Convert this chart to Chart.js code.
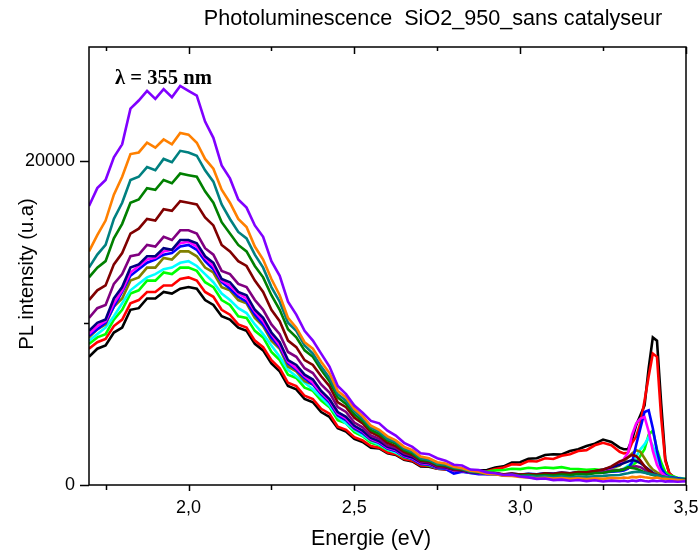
<!DOCTYPE html>
<html>
<head>
<meta charset="utf-8">
<script src="https://cdn.jsdelivr.net/npm/chart.js@4.4.1/dist/chart.umd.min.js"></script>
<style>
  html, body { margin: 0; padding: 0; background: #fff; }
  #wrap { width: 698px; height: 554px; }
</style>
</head>
<body>
<div id="wrap"><canvas id="chart" width="698" height="554"></canvas></div>
<script>
// photon energy (eV), shared by every spectrum
const energy = [1.700,1.725,1.750,1.775,1.800,1.825,1.850,1.875,1.900,1.925,1.950,1.975,2.000,2.025,2.050,2.075,2.100,2.125,2.150,2.175,2.200,2.225,2.250,2.275,2.300,2.325,2.350,2.375,2.400,2.425,2.450,2.475,2.500,2.525,2.550,2.575,2.600,2.625,2.650,2.675,2.700,2.725,2.750,2.775,2.800,2.825,2.850,2.875,2.900,2.925,2.950,2.975,3.000,3.025,3.050,3.075,3.100,3.125,3.150,3.175,3.200,3.225,3.250,3.275,3.300,3.3125,3.325,3.3375,3.350,3.3625,3.375,3.3875,3.400,3.4125,3.425,3.4375,3.450,3.475,3.500];

// PL intensity (u.a), one array per spectrum
const violet  = [17200,18300,18800,20200,21000,23200,23700,24300,23800,24400,23900,24600,24300,24000,22400,21400,19700,18900,17600,17100,16000,15300,13800,12900,11300,10500,9500,8900,8100,7300,6100,5600,4900,4450,3950,3800,3350,3050,2600,2350,1950,1900,1650,1500,1250,1200,950,920,780,720,620,640,520,470,380,400,300,330,260,310,240,290,220,270,230,260,220,280,240,300,250,220,270,230,260,210,240,200,230];
const orange  = [14400,15400,16300,17900,19000,20400,20500,21100,20800,21300,21000,21700,21600,21100,20100,19500,18200,17400,16400,15900,14700,13900,12700,11700,10300,9700,8800,8400,7600,6900,5800,5400,4700,4250,3650,3400,3000,2750,2350,2150,1750,1650,1400,1330,1120,1030,880,820,690,670,580,560,490,470,420,450,400,430,380,420,370,410,380,440,420,460,430,500,470,520,480,450,420,460,400,380,350,300,260];
const teal    = [13400,14200,14800,16400,17400,18800,19000,19600,19400,20100,19900,20600,20500,20300,19400,18700,17300,16400,15600,15200,14200,13400,12200,11300,10000,9500,8600,8100,7300,6600,5600,5200,4550,4100,3550,3300,2850,2650,2250,2050,1650,1550,1300,1250,1060,990,820,790,680,660,590,610,540,560,500,540,490,530,480,520,500,540,560,600,620,680,720,780,820,800,760,700,650,600,540,500,460,350,300];
const green   = [12800,13400,13800,15200,16100,17400,17600,18300,18200,18800,18600,19200,19100,19000,18100,17400,16200,15500,14800,14400,13500,12800,11700,10800,9600,9100,8300,7900,7100,6400,5400,5000,4350,3950,3400,3150,2750,2550,2150,1950,1550,1500,1250,1200,1020,970,830,780,690,680,600,640,580,620,570,620,590,640,610,680,650,720,760,850,900,960,1100,1050,1000,900,780,700,620,560,500,460,420,340,300];
const wine    = [11400,12000,12300,13600,14300,15500,15800,16400,16300,17000,16900,17500,17400,17300,16500,16000,14800,14400,13800,13500,12600,11900,10800,10100,8900,8500,7700,7400,6700,6100,5100,4800,4150,3800,3250,3000,2600,2400,2050,1850,1500,1450,1200,1150,980,940,830,800,720,730,660,700,640,680,650,720,690,760,720,800,780,860,950,1150,1450,1550,1700,1850,1780,1500,1150,900,700,600,500,450,420,330,300];
const purple  = [10300,10900,11100,12400,13000,14100,14200,14800,14700,15300,15100,15700,15700,15500,14600,14200,13200,13000,12400,12200,11400,10800,9900,9300,8200,7900,7200,6900,6200,5700,4800,4500,3850,3550,3050,2850,2450,2300,1950,1800,1450,1400,1150,1120,960,920,820,800,720,710,640,670,600,640,600,660,620,680,650,720,680,760,800,880,920,980,1050,1120,1150,1100,950,820,680,600,520,470,430,340,300];
const navy    = [9500,10000,10200,11500,12200,13400,13600,14100,14100,14600,14500,15100,15100,14900,14100,13700,12700,12500,11900,11700,10800,10300,9400,8800,7700,7400,6800,6500,5800,5300,4500,4200,3650,3350,2900,2700,2350,2200,1850,1700,1400,1350,1100,1080,920,880,780,760,690,700,630,680,610,660,620,690,650,720,700,780,760,850,950,1100,1250,1350,1450,1540,1480,1350,1150,950,750,620,540,480,440,360,300];
const magenta = [9300,9800,10100,11200,12000,13100,13500,13900,14000,14400,14500,14900,15000,14700,14000,13500,12600,12300,11800,11500,10700,10100,9300,8600,7600,7200,6700,6300,5700,5200,4400,4100,3600,3300,2850,2650,2300,2150,1800,1650,1350,1300,1080,1050,900,860,760,740,670,680,610,650,600,640,610,660,640,700,690,760,780,850,900,1050,1300,1600,1970,3100,3800,4100,4200,3300,2100,1250,780,560,460,350,300];
const blue    = [9200,9600,10000,11000,11900,12900,13300,13700,13900,14200,14300,14700,14800,14500,13800,13300,12500,12100,11600,11300,10500,9900,9100,8500,7500,7100,6600,6200,5600,5100,4300,4000,3500,3200,2800,2600,2250,2100,1750,1600,1300,1250,1050,1000,700,820,740,660,660,700,640,700,650,690,660,720,700,760,720,780,760,800,780,820,850,900,1000,1400,2500,3500,4500,4600,3500,2100,1050,650,500,420,350];
const olive   = [9100,9600,9900,11000,11500,12600,12800,13400,13400,14000,13900,14400,14400,14100,13400,13100,12200,12000,11400,11200,10300,9800,8900,8400,7300,7000,6400,6200,5600,5100,4300,4000,3450,3200,2750,2600,2250,2100,1750,1650,1350,1300,1080,1050,880,860,780,760,690,700,620,660,600,640,610,660,630,690,680,740,720,800,900,1050,1200,1450,1700,1950,2150,2050,1650,1250,950,780,650,520,450,350,300];
const cyan    = [8900,9300,9700,10400,11200,12000,12400,12800,13000,13300,13400,13700,13800,13500,13000,12500,11800,11400,10900,10600,9900,9300,8600,7900,7100,6700,6300,5900,5400,4900,4200,3800,3400,3050,2700,2500,2200,2000,1750,1600,1350,1250,1050,1000,880,830,750,720,660,680,620,660,640,680,660,700,680,720,700,760,740,800,780,850,900,1000,1200,1350,1750,2200,2500,2950,2400,1700,1000,650,500,400,330];
const lime    = [8700,9100,9300,10200,10800,11800,12000,12600,12600,13100,13000,13400,13400,13200,12500,12200,11400,11100,10400,10300,9500,9100,8200,7700,6800,6600,6000,5800,5200,4800,4000,3800,3250,3000,2600,2450,2150,2000,1700,1600,1300,1200,1050,1000,900,880,830,860,820,900,920,1000,980,1060,1020,1080,1040,1100,1000,980,940,960,900,950,920,1000,1100,1200,1400,1800,2200,3100,3350,2200,1400,800,600,450,380];
const red     = [8400,8800,9000,9800,10200,11200,11400,11900,11900,12300,12300,12700,12800,12600,11900,11600,10800,10500,9900,9700,8900,8500,7700,7200,6300,6100,5500,5300,4700,4400,3600,3400,2950,2750,2400,2300,2000,1900,1600,1500,1200,1180,1000,980,880,870,790,830,840,980,1080,1280,1250,1480,1450,1650,1600,1800,1900,2100,2150,2450,2600,2450,2050,1950,1980,2600,3000,3800,5200,6700,8100,7900,4200,1500,700,320,260];
const black   = [7900,8400,8600,9400,9700,10800,10900,11500,11500,11900,11800,12100,12200,12100,11400,11100,10400,10200,9700,9500,8700,8300,7500,7000,6100,5900,5300,5100,4500,4200,3500,3300,2850,2650,2300,2250,1950,1850,1550,1450,1150,1130,1000,960,870,860,830,900,920,1080,1150,1380,1400,1620,1650,1850,1900,1880,2100,2200,2400,2550,2800,2650,2300,2200,2200,2800,3700,4300,4900,7200,9100,8900,5050,1600,700,300,250];

// axis ticks
const xTickValues = [1.75, 2.0, 2.25, 2.5, 2.75, 3.0, 3.25, 3.5];
const xTickLabels = ['', '2,0', '', '2,5', '', '3,0', '', '3,5'];
const yTickValues = [0, 10000, 20000];
const yTickLabels = ['0', '', '20000'];

const chartTitle = 'Photoluminescence  SiO2_950_sans catalyseur';
const xTitle = 'Energie (eV)';
const yTitle = 'PL intensity (u.a)';
const note = 'λ = 355 nm';

// first in the list is drawn on top
const spectra = [
    { label: 'violet', data: violet, color: '#8000ff' },
    { label: 'orange', data: orange, color: '#ff8000' },
    { label: 'teal', data: teal, color: '#008080' },
    { label: 'green', data: green, color: '#008000' },
    { label: 'wine', data: wine, color: '#800000' },
    { label: 'purple', data: purple, color: '#800080' },
    { label: 'navy', data: navy, color: '#000080' },
    { label: 'magenta', data: magenta, color: '#ff00ff' },
    { label: 'blue', data: blue, color: '#0000ff' },
    { label: 'olive', data: olive, color: '#808000' },
    { label: 'cyan', data: cyan, color: '#00ffff' },
    { label: 'lime', data: lime, color: '#00ff00' },
    { label: 'red', data: red, color: '#ff0000' },
    { label: 'black', data: black, color: '#000000' },
];

const SANS = '"Liberation Sans", Arial, sans-serif';
Chart.defaults.font.family = SANS;
Chart.defaults.color = '#000';

// frame, tick marks (Origin style) and the texts around the plot
const framePlugin = {
    id: 'frame',
    afterDraw(chart) {
        const { ctx, chartArea: a, scales: { x, y } } = chart;
        ctx.save();
        ctx.strokeStyle = '#000';
        ctx.lineWidth = 1.5;
        ctx.strokeRect(a.left, a.top, a.right - a.left, a.bottom - a.top);

        ctx.beginPath();
        xTickValues.forEach((v, i) => {
            const px = Math.round(x.getPixelForValue(v)) + 0.5;
            const major = xTickLabels[i] !== '';
            ctx.moveTo(px, a.bottom);
            ctx.lineTo(px, a.bottom + (major ? 6 : 5));
            ctx.moveTo(px, a.top);
            ctx.lineTo(px, a.top + (major ? 7 : 4));
        });
        yTickValues.forEach((v, i) => {
            const py = Math.round(y.getPixelForValue(v)) + 0.5;
            const major = yTickLabels[i] !== '';
            ctx.moveTo(a.left, py);
            ctx.lineTo(a.left - (major ? 9 : 5), py);
        });
        ctx.stroke();

        ctx.fillStyle = '#000';
        ctx.textBaseline = 'middle';
        ctx.textAlign = 'center';
        ctx.font = '21.6px ' + SANS;
        ctx.fillText(chartTitle, 433, 19);

        // axis titles sit a little off-centre in the original
        ctx.font = '21.4px ' + SANS;
        ctx.fillText(xTitle, 371, 539);
        ctx.save();
        ctx.translate(27, 274);
        ctx.rotate(-Math.PI / 2);
        ctx.font = '20.2px ' + SANS;
        ctx.fillText(yTitle, 0, 0);
        ctx.restore();

        ctx.textAlign = 'left';
        ctx.textBaseline = 'alphabetic';
        ctx.font = 'bold 20.6px "Liberation Serif", "Times New Roman", serif';
        ctx.fillText(note, 115, 84);
        ctx.restore();
    }
};

const ctx = document.getElementById('chart').getContext('2d');
new Chart(ctx, {
    type: 'line',
    data: {
        datasets: spectra.map(s => ({
            label: s.label,
            data: energy.map((e, i) => ({ x: e, y: s.data[i] })),
            borderColor: s.color,
            backgroundColor: s.color,
            borderWidth: 2.6,
            pointRadius: 0,
            tension: 0,
            fill: false,
        })),
    },
    options: {
        responsive: false,
        animation: false,
        layout: { padding: { top: 47, right: 12, left: 0, bottom: 0 } },
        plugins: {
            legend: { display: false },
            tooltip: { enabled: false },
        },
        scales: {
            x: {
                type: 'linear',
                min: 1.7,
                max: 3.5,
                afterBuildTicks: s => { s.ticks = xTickValues.map(v => ({ value: v })); },
                afterFit: s => {
                    s.height = 69;
                    s.paddingLeft = 0;
                    s.paddingRight = 0;
                },
                grid: { display: false, drawTicks: false },
                border: { display: false },
                ticks: {
                    autoSkip: false,
                    maxRotation: 0,
                    padding: 12,
                    font: { size: 18 },
                    callback: (v, i) => xTickLabels[i],
                },
                title: { display: false },
            },
            y: {
                type: 'linear',
                min: 0,
                max: 27000,
                afterBuildTicks: s => { s.ticks = yTickValues.map(v => ({ value: v })); },
                afterFit: s => {
                    s.width = 89;
                    s.paddingTop = 0;
                    s.paddingBottom = 0;
                },
                grid: { display: false, drawTicks: false },
                border: { display: false },
                ticks: {
                    autoSkip: false,
                    padding: 14,
                    font: { size: 18 },
                    callback: (v, i) => yTickLabels[i],
                },
                title: { display: false },
            },
        },
    },
    plugins: [framePlugin],
});
</script>
</body>
</html>
